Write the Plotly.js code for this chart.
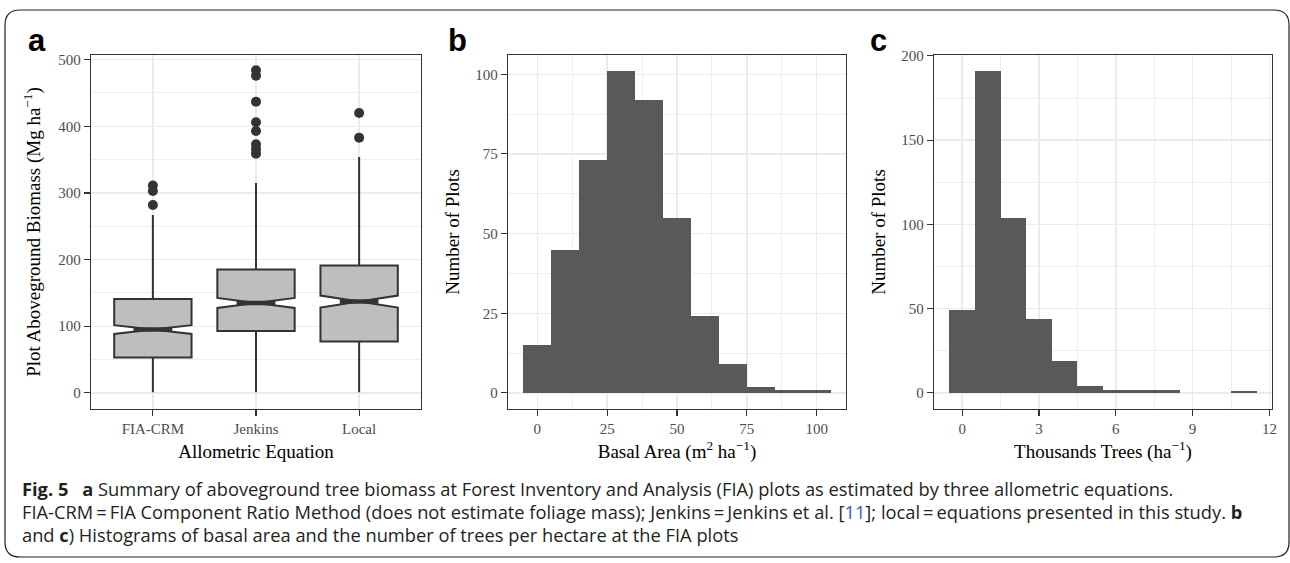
<!DOCTYPE html>
<html>
<head>
<meta charset="utf-8">
<script src="https://cdn.plot.ly/plotly-3.0.1.min.js"></script>
<style>
html, body { margin: 0; padding: 0; background: #ffffff; }
#chart { width: 1290px; height: 563px; }
</style>
</head>
<body>
<div id="chart"></div>
<script>
// ---------- Panel a: boxplot of aboveground biomass ----------
const equations = ['FIA-CRM', 'Jenkins', 'Local'];
const q1Values = [53, 93, 77];
const medianValues = [95, 135, 137];
const q3Values = [141, 185, 191];
const lowerWhiskers = [1, 1, 1];
const upperWhiskers = [267, 315, 354];
const notchHalfSpans = [6.5, 7.5, 9];
const outliersFIA = [311, 303, 282];
const outliersJenkins = [484, 476, 437, 406, 393, 373, 366, 359];
const outliersLocal = [420, 383];

// ---------- Panel b: histogram of basal area ----------
const basalCenters = [0, 10, 20, 30, 40, 50, 60, 70, 80, 90, 100];
const basalCounts = [15, 45, 73, 101, 92, 55, 24, 9, 2, 1, 1];

// ---------- Panel c: histogram of thousands of trees ----------
const treeCenters = [0, 1, 2, 3, 4, 5, 6, 7, 8, 9, 10, 11];
const treeCounts = [49, 191, 104, 44, 19, 4, 2, 2, 2, 0, 0, 1];

// ---------- Caption text ----------
const captionLines = [
  '<b>Fig. 5</b>\u2002 <b>a</b> Summary of aboveground tree biomass at Forest Inventory and Analysis (FIA) plots as estimated by three allometric equations.',
  'FIA-CRM\u2009=\u2009FIA Component Ratio Method (does not estimate foliage mass); Jenkins\u2009=\u2009Jenkins et al. [<span style="color:#2f5fbf">11</span>]; local\u2009=\u2009equations presented in this study. <b>b</b>',
  'and <b>c</b>) Histograms of basal area and the number of trees per hectare at the FIA plots'
];

// ---------- Layout helpers ----------
const W = 1290, H = 563;
const px = v => v / W;
const py = v => 1 - v / H;

const SERIF = 'Liberation Serif, Times New Roman, serif';
const SANS = 'Liberation Sans, Arial, sans-serif';
const CAP = 'Open Sans, Noto Sans, sans-serif';
const GRID = '#ebebeb';
const DARK = '#333333';

const boxWidth = 0.75;
const notchWidth = 0.5;

const traces = [];

traces.push({
  type: 'box',
  x: equations.map((_, i) => i),
  q1: q1Values,
  median: medianValues,
  q3: q3Values,
  lowerfence: lowerWhiskers,
  upperfence: upperWhiskers,
  notched: true,
  notchspan: notchHalfSpans,
  notchwidth: notchWidth,
  width: boxWidth,
  whiskerwidth: 0,
  boxpoints: false,
  fillcolor: '#bebebe',
  line: { color: DARK, width: 2 },
  xaxis: 'x', yaxis: 'y',
  hoverinfo: 'skip',
  showlegend: false
});

// thicker median lines (ggplot fatten)
medianValues.forEach((m, i) => {
  const half = boxWidth / 2 * (1 - notchWidth);
  traces.push({
    type: 'scatter', mode: 'lines',
    x: [i - half, i + half], y: [m, m],
    line: { color: DARK, width: 4.5 },
    xaxis: 'x', yaxis: 'y', hoverinfo: 'skip', showlegend: false
  });
});

[outliersFIA, outliersJenkins, outliersLocal].forEach((arr, i) => {
  traces.push({
    type: 'scatter', mode: 'markers',
    x: arr.map(() => i), y: arr,
    marker: { color: DARK, size: 10 },
    xaxis: 'x', yaxis: 'y', hoverinfo: 'skip', showlegend: false
  });
});

traces.push({
  type: 'bar', x: basalCenters, y: basalCounts, width: 10,
  marker: { color: '#595959', line: { width: 0 } },
  xaxis: 'x2', yaxis: 'y2', hoverinfo: 'skip', showlegend: false
});

traces.push({
  type: 'bar', x: treeCenters, y: treeCounts, width: 1,
  marker: { color: '#595959', line: { width: 0 } },
  xaxis: 'x3', yaxis: 'y3', hoverinfo: 'skip', showlegend: false
});

function axisBase(extra) {
  return Object.assign({
    showgrid: true, gridcolor: GRID, gridwidth: 1.4,
    zeroline: false,
    showline: true, mirror: true, linecolor: DARK, linewidth: 1.2,
    ticks: 'outside', ticklen: 6, tickwidth: 1.1, tickcolor: DARK,
    tickfont: { family: SERIF, size: 15, color: '#4d4d4d' },
    automargin: false, fixedrange: true
  }, extra);
}
function minorGrid(dtick) {
  return { dtick: dtick, tick0: 0, showgrid: true, gridcolor: GRID, gridwidth: 0.8, ticks: '' };
}
const titleFont = { family: SERIF, size: 19, color: '#000000' };

const yTop = py(55), yBot = py(409);

const panelLabel = (t, x) => ({
  text: '<b>' + t + '</b>', x: px(x), y: py(40), xanchor: 'left', yanchor: 'middle',
  xref: 'paper', yref: 'paper', showarrow: false, font: { family: SANS, size: 31, color: '#000' }
});
const captionYs = [488, 511, 534];

const layout = {
  width: W, height: H,
  margin: { l: 0, r: 0, t: 0, b: 0 },
  paper_bgcolor: '#ffffff', plot_bgcolor: '#ffffff',
  showlegend: false,
  bargap: 0,
  xaxis: axisBase({
    domain: [px(91), px(421)], anchor: 'y',
    range: [-0.6, 2.6], tickvals: equations.map((_, i) => i), ticktext: equations,
    title: { text: 'Allometric Equation', font: titleFont, standoff: 8 }
  }),
  yaxis: axisBase({
    domain: [yBot, yTop], anchor: 'x',
    range: [-24.2, 507], tickvals: [0, 100, 200, 300, 400, 500],
    minor: minorGrid(50),
    title: { text: 'Plot Aboveground Biomass (Mg ha<sup>\u22121</sup>)', font: titleFont, standoff: 12 }
  }),
  xaxis2: axisBase({
    domain: [px(508), px(846)], anchor: 'y2',
    range: [-10.5, 110.5], tickvals: [0, 25, 50, 75, 100],
    minor: minorGrid(12.5),
    title: { text: 'Basal Area (m<sup>2</sup> ha<sup>\u22121</sup>)', font: titleFont, standoff: 8 }
  }),
  yaxis2: axisBase({
    domain: [yBot, yTop], anchor: 'x2',
    range: [-5.05, 106.05], tickvals: [0, 25, 50, 75, 100],
    minor: minorGrid(12.5),
    title: { text: 'Number of Plots', font: titleFont, standoff: 10 }
  }),
  xaxis3: axisBase({
    domain: [px(934), px(1272)], anchor: 'y3',
    range: [-1.1, 12.1], tickvals: [0, 3, 6, 9, 12],
    minor: minorGrid(1.5),
    title: { text: 'Thousands Trees (ha<sup>\u22121</sup>)', font: titleFont, standoff: 8 }
  }),
  yaxis3: axisBase({
    domain: [yBot, yTop], anchor: 'x3',
    range: [-9.55, 200.55], tickvals: [0, 50, 100, 150, 200],
    minor: minorGrid(25),
    title: { text: 'Number of Plots', font: titleFont, standoff: 10 }
  }),
  annotations: [
    panelLabel('a', 26), panelLabel('b', 446), panelLabel('c', 868)
  ].concat(captionLines.map((t, i) => ({
    text: t, x: px(20), y: py(captionYs[i]), xanchor: 'left', yanchor: 'middle',
    xref: 'paper', yref: 'paper', showarrow: false, align: 'left',
    font: { family: CAP, size: 18.3, color: '#231f20' }
  }))),
  shapes: [(() => {
    const L = 5, T = 10, R = 1289, B = 557, r = 15;
    const p = (a, b) => px(a) + ',' + py(b);
    return {
      type: 'path', xref: 'paper', yref: 'paper', layer: 'above',
      path: 'M' + p(L + r, T) + ' L' + p(R - r, T) + ' Q' + p(R, T) + ' ' + p(R, T + r) +
            ' L' + p(R, B - r) + ' Q' + p(R, B) + ' ' + p(R - r, B) +
            ' L' + p(L + r, B) + ' Q' + p(L, B) + ' ' + p(L, B - r) +
            ' L' + p(L, T + r) + ' Q' + p(L, T) + ' ' + p(L + r, T) + ' Z',
      line: { color: '#231f20', width: 1.2 }, fillcolor: 'rgba(0,0,0,0)'
    };
  })()]
};

Plotly.newPlot('chart', traces, layout, { displayModeBar: false, staticPlot: true });
</script>
</body>
</html>
